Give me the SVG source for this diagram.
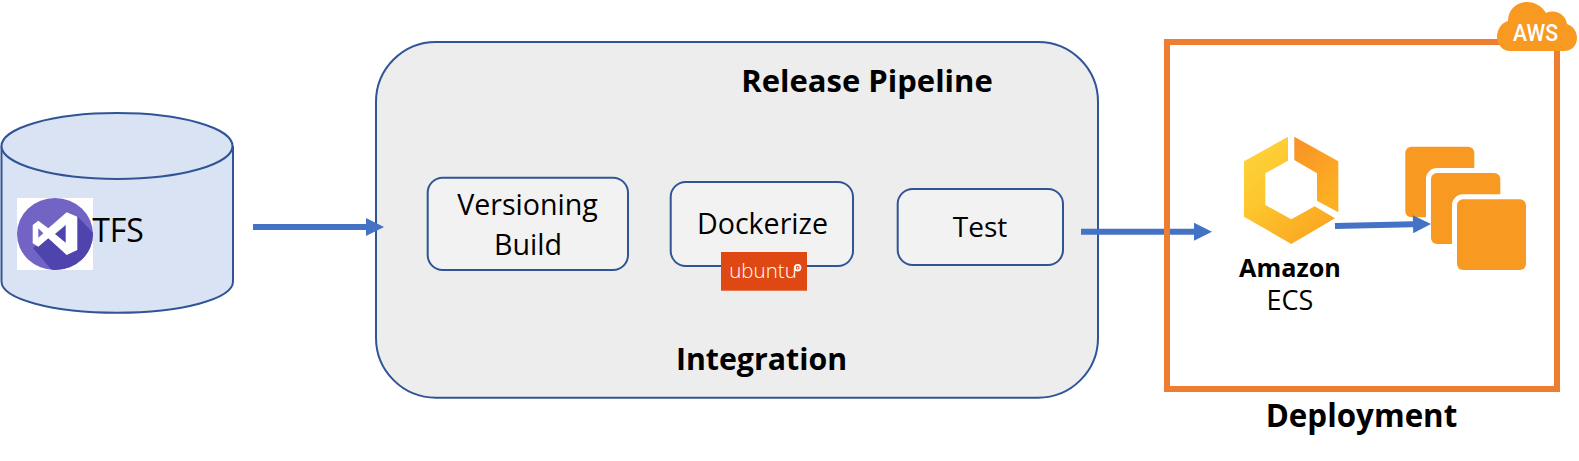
<svg xmlns="http://www.w3.org/2000/svg" width="1579" height="461" viewBox="0 0 1579 461">
<style>
text{font-family:"Open Sans","Noto Sans","Liberation Sans",sans-serif;fill:#000;text-anchor:middle}
.t{font-size:28.600px}
.b{font-size:31px;font-weight:700}
.box{fill:#f2f2f2;stroke:#2f5597;stroke-width:2}
.sq{fill:#f89a22;stroke:#fff;stroke-width:10;paint-order:stroke}
.c{fill:none;stroke:#4472c4;stroke-width:6;marker-end:url(#a)}
</style>
<defs>
<marker id="a" markerUnits="strokeWidth" markerWidth="3" markerHeight="3" refX="0" refY="1.5" orient="auto" overflow="visible"><path d="M0 0L3 1.5L0 3Z" fill="#4472c4"/></marker>
<linearGradient id="g1" x1="0" y1="0" x2="0.8" y2="1"><stop offset="0" stop-color="#ffd640"/><stop offset="0.45" stop-color="#fdc62c"/><stop offset="1" stop-color="#faa421"/></linearGradient>
<linearGradient id="g2" x1="0" y1="0" x2="0.6" y2="1"><stop offset="0" stop-color="#f99127"/><stop offset="1" stop-color="#fdb022"/></linearGradient>
<clipPath id="vc"><ellipse cx="55" cy="234" rx="38" ry="36"/></clipPath>
</defs>
<g id="tfs">
<path d="M1.500 146V281.500C1.500 299 53 312.700 117 312.700S233 299 233 281.500V146" fill="#dae3f3" stroke="#2f5597" stroke-width="2"/>
<ellipse cx="117" cy="146" rx="115.500" ry="33" fill="#dae3f3" stroke="#2f5597" stroke-width="2"/>
<rect x="17" y="198" width="76" height="72" fill="#fff"/>
<ellipse cx="55" cy="234" rx="38" ry="36" fill="#7264c4"/>
<path clip-path="url(#vc)" d="M77 216L100 240V280H60L33 248Z" fill="#4f44ae"/>
<path fill-rule="evenodd" fill="#fff" d="M66.700 212.300L77.300 216.700V250L66.700 255L48.300 238.300L38.300 246.700L32.700 243.300V225L38.300 220.700L48.300 228.300ZM38.300 228.300V237.700L43.300 233.300ZM65.700 225V242.700L55 234Z"/>
<text x="118" y="241.500" style="font-size:32px">TFS</text>
</g>
<g id="pipeline">
<rect x="376" y="42" width="722" height="355.700" rx="60" ry="60" fill="#ededed" stroke="#2f5597" stroke-width="2"/>
<text class="b" x="867" y="92">Release Pipeline</text>
<text class="b" x="761.500" y="370" style="font-size:30.300px">Integration</text>
</g>
<g id="versioning-build">
<rect class="box" x="427.700" y="177.700" width="200.300" height="92.300" rx="15"/>
<text class="t" x="527.500" y="215">Versioning</text>
<text class="t" x="528" y="255">Build</text>
</g>
<g id="dockerize">
<rect class="box" x="670.700" y="182" width="182.300" height="84" rx="15"/>
<text class="t" x="762.500" y="234">Dockerize</text>
<rect x="721" y="252" width="86" height="38.700" fill="#e04813"/>
<text x="763" y="278" style="font-size:20.500px;fill:#fff;font-weight:300">ubuntu</text>
<circle cx="797.700" cy="267.700" r="2.800" fill="none" stroke="#fff" stroke-width="1.800"/>
<circle cx="797.700" cy="267.700" r="1" fill="#fff"/>
</g>
<g id="test">
<rect class="box" x="897.700" y="189" width="165.300" height="76" rx="15"/>
<text class="t" x="980" y="237" style="font-size:28px">Test</text>
</g>
<g id="ecs">
<path fill="url(#g1)" d="M1288 136.700L1244 161.300V216.700L1291.300 244L1335 218.300L1314.700 206.300L1291.300 219.300L1265.300 205V173.300L1288 160.700Z"/>
<path fill="url(#g2)" d="M1294.300 136.700L1338.300 161.300V212.300L1317 200.700V173.300L1294.300 160Z"/>
<text x="1290" y="277" style="font-size:25.200px;font-weight:700">Amazon</text>
<text x="1290" y="310" style="font-size:27px">ECS</text>
</g>
<g id="containers">
<rect class="sq" x="1405.300" y="146.700" width="69" height="70.600" rx="6"/>
<rect class="sq" x="1431" y="173" width="69.300" height="71" rx="6"/>
<rect class="sq" x="1457" y="199.300" width="69" height="70.700" rx="6"/>
</g>
<g id="connectors">
<path class="c" d="M253 227H366"/>
<path class="c" d="M1081 231.700H1194"/>
<path class="c" d="M1335 226L1413 224.300"/>
</g>
<g id="deployment">
<rect x="1167" y="42" width="390" height="347" fill="none" stroke="#ed7d31" stroke-width="6"/>
<text class="b" x="1361.500" y="427" style="font-size:31.300px">Deployment</text>
</g>
<g id="aws">
<path fill="#f89a22" d="M1510 51H1564C1572 51 1577 45 1577 38C1577 31 1573 26 1567 24C1566 16 1559 11 1552 11.500C1549 11.500 1547 12.500 1546 13C1542 6 1535 2 1527 2C1516 2 1508 10 1508 21C1501 23 1497 30 1497 37C1497 45 1503 51 1510 51Z"/>
<text x="1535.500" y="40.500" textLength="45" lengthAdjust="spacingAndGlyphs" style="font-family:Roboto,'Liberation Sans',sans-serif;font-size:23px;font-weight:500;fill:#fff">AWS</text>
</g>
</svg>
